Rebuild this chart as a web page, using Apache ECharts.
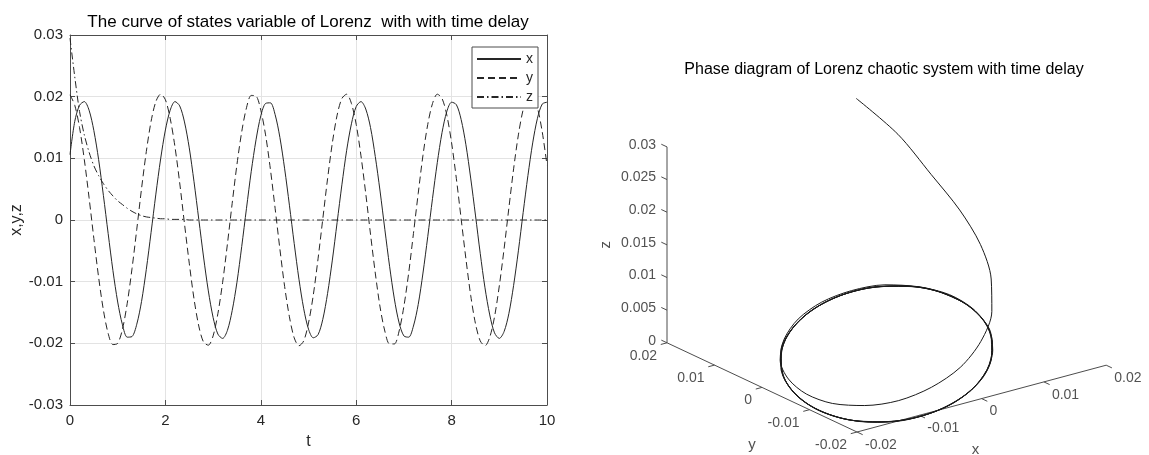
<!DOCTYPE html>
<html>
<head>
<meta charset="utf-8">
<title>Lorenz system with time delay</title>
<script src="https://cdn.jsdelivr.net/npm/echarts@6/dist/echarts.min.js"></script>
<style>
  html, body { margin: 0; padding: 0; background: #fff; }
  #main { width: 1149px; height: 455px; }
</style>
</head>
<body>
<div id="main"></div>
<script>
const tStep = 0.1;
const xState = [
  0.0106, 0.0160, 0.0186, 0.0192, 0.0178, 0.0145, 0.0098, 0.0040, -0.0022, -0.0082,
  -0.0133, -0.0170, -0.0190, -0.0189, -0.0169, -0.0132, -0.0080, -0.0020, 0.0042, 0.0099,
  0.0146, 0.0178, 0.0192, 0.0185, 0.0159, 0.0117, 0.0062, 0.0001, -0.0060, -0.0115,
  -0.0158, -0.0185, -0.0192, -0.0179, -0.0147, -0.0101, -0.0043, 0.0019, 0.0079, 0.0130,
  0.0169, 0.0189, 0.0190, 0.0171, 0.0134, 0.0083, 0.0024, -0.0038, -0.0096, -0.0144,
  -0.0177, -0.0191, -0.0186, -0.0161, -0.0119, -0.0065, -0.0004, 0.0057, 0.0113, 0.0156,
  0.0184, 0.0192, 0.0180, 0.0150, 0.0103, 0.0047, -0.0015, -0.0075, -0.0128, -0.0167,
  -0.0188, -0.0190, -0.0172, -0.0137, -0.0086, -0.0027, 0.0035, 0.0093, 0.0142, 0.0176,
  0.0191, 0.0187, 0.0163, 0.0122, 0.0068, 0.0008, -0.0054, -0.0110, -0.0154, -0.0183,
  -0.0192, -0.0181, -0.0152, -0.0106, -0.0050, 0.0012, 0.0072, 0.0125, 0.0165, 0.0188,
  0.0191
];
const yState = [
  0.0203, 0.0186, 0.0150, 0.0098, 0.0036, -0.0030, -0.0093, -0.0146, -0.0184, -0.0202,
  -0.0200, -0.0177, -0.0135, -0.0079, -0.0015, 0.0051, 0.0111, 0.0160, 0.0192, 0.0204,
  0.0195, 0.0165, 0.0119, 0.0060, -0.0006, -0.0070, -0.0128, -0.0172, -0.0198, -0.0203,
  -0.0188, -0.0152, -0.0101, -0.0039, 0.0027, 0.0090, 0.0143, 0.0182, 0.0202, 0.0201,
  0.0178, 0.0138, 0.0083, 0.0019, -0.0047, -0.0108, -0.0157, -0.0191, -0.0204, -0.0196,
  -0.0167, -0.0122, -0.0063, 0.0002, 0.0067, 0.0125, 0.0170, 0.0197, 0.0204, 0.0189,
  0.0155, 0.0104, 0.0043, -0.0023, -0.0086, -0.0141, -0.0180, -0.0201, -0.0201, -0.0180,
  -0.0140, -0.0086, -0.0022, 0.0043, 0.0105, 0.0155, 0.0189, 0.0204, 0.0197, 0.0170,
  0.0125, 0.0067, 0.0002, -0.0063, -0.0122, -0.0168, -0.0196, -0.0204, -0.0190, -0.0157,
  -0.0107, -0.0047, 0.0019, 0.0083, 0.0138, 0.0179, 0.0201, 0.0202, 0.0182, 0.0143,
  0.0089
];
const zState = [
  0.0295, 0.0232, 0.0176, 0.0138, 0.0110, 0.0088, 0.0072, 0.0059, 0.0048, 0.0039,
  0.0031, 0.0025, 0.0019, 0.0014, 0.0010, 0.0007, 0.0005, 0.0004, 0.0003, 0.0002,
  0.0002, 0.0001, 0.0001, 0.0001, 0.0001, 0, 0, 0, 0, 0,
  0, 0, 0, 0, 0, 0, 0, 0, 0, 0,
  0, 0, 0, 0, 0, 0, 0, 0, 0, 0,
  0, 0, 0, 0, 0, 0, 0, 0, 0, 0,
  0, 0, 0, 0, 0, 0, 0, 0, 0, 0,
  0, 0, 0, 0, 0, 0, 0, 0, 0, 0,
  0, 0, 0, 0, 0, 0, 0, 0, 0, 0,
  0, 0, 0, 0, 0, 0, 0, 0, 0, 0,
  0
];
const t = xState.map((_, i) => +(i * tStep).toFixed(1));

// tick labels of the 3-D box
const xyTicks = [-0.02, -0.01, 0, 0.01, 0.02];
const zTicks = [0, 0.005, 0.01, 0.015, 0.02, 0.025, 0.03];

// 3-D view: screen spot of the corner (x=-0.02, y=-0.02, z=0) and pixel step per unit of each axis
const ORIGIN = [857, 432];
const EX = [6230, -1670];
const EY = [-4750, -2230];
const EZ = [0, -6530];
function project(x, y, z) {
  return [
    ORIGIN[0] + (x + 0.02) * EX[0] + (y + 0.02) * EY[0] + z * EZ[0],
    ORIGIN[1] + (x + 0.02) * EX[1] + (y + 0.02) * EY[1] + z * EZ[1]
  ];
}
function seg(a, b) {
  const p = project(a[0], a[1], a[2]);
  const q = project(b[0], b[1], b[2]);
  return [p[0], p[1], q[0], q[1]];
}

// box lines and tick marks
let boxSegs = [
  seg([-0.02, 0.02, 0], [-0.02, 0.02, 0.03]),
  seg([-0.02, 0.02, 0], [-0.02, -0.02, 0]),
  seg([-0.02, -0.02, 0], [0.02, -0.02, 0])
];
zTicks.forEach(v => boxSegs.push(seg([-0.02, 0.02, v], [-0.02, 0.0212, v])));
xyTicks.forEach(v => boxSegs.push(seg([-0.02, v, 0], [-0.021, v, 0])));
xyTicks.forEach(v => boxSegs.push(seg([v, -0.02, 0], [v, -0.0212, 0])));

const fmt = v => String(v);
const zLabels = zTicks.map(v => project(-0.02, 0.02, v).concat(fmt(v)));
const yLabels = xyTicks.map(v => project(-0.02, v, 0).concat(fmt(v)));
const xLabels = xyTicks.map(v => project(v, -0.02, 0).concat(fmt(v)));

const FONT = "'Liberation Sans', Arial, Helvetica, sans-serif";
const INK = '#262626';
const AXIS = '#4d4d4d';
const GRIDC = '#e3e3e3';

function labelSeries(data, label) {
  return {
    type: 'scatter', xAxisIndex: 2, yAxisIndex: 2, silent: true,
    symbolSize: 0, data: data,
    label: Object.assign({
      show: true, formatter: p => p.data[2],
      color: INK, fontSize: 14, fontFamily: FONT
    }, label)
  };
}

const chart = echarts.init(document.getElementById('main'));
chart.setOption({
  animation: false,
  backgroundColor: '#fff',
  textStyle: { fontFamily: FONT },
  title: [
    {
      text: 'The curve of states variable of Lorenz  with with time delay',
      left: 308, top: 14, padding: 0, textAlign: 'center',
      textStyle: { fontSize: 17, fontWeight: 'normal', color: '#000', fontFamily: FONT }
    },
    {
      text: 'Phase diagram of Lorenz chaotic system with time delay',
      left: 884, top: 62, padding: 0, textAlign: 'center',
      textStyle: { fontSize: 16, fontWeight: 'normal', color: '#000', fontFamily: FONT }
    }
  ],
  legend: {
    data: ['x', 'y', 'z'],
    orient: 'vertical',
    left: 472, top: 47,
    padding: [5, 5, 4, 4],
    itemWidth: 44, itemHeight: 12, itemGap: 5,
    itemStyle: { opacity: 0 },
    borderColor: AXIS, borderWidth: 1, borderRadius: 0,
    backgroundColor: '#fff',
    textStyle: { fontSize: 14, color: INK, fontFamily: FONT }
  },
  grid: [
    { left: 70, top: 35, width: 477, height: 375 },
    { left: 580, top: 0, right: 0, bottom: 0 }
  ],
  xAxis: [
    {
      type: 'value', gridIndex: 0, min: 0, max: 10, interval: 2,
      name: 't', nameLocation: 'middle', nameGap: 29,
      nameTextStyle: { fontSize: 16, color: INK, fontFamily: FONT },
      axisLine: { onZero: false, lineStyle: { color: AXIS } },
      axisTick: { inside: true, length: 5, lineStyle: { color: AXIS } },
      axisLabel: { fontSize: 15, color: INK, margin: 8, fontFamily: FONT },
      splitLine: { show: true, lineStyle: { color: GRIDC } }
    },
    {
      type: 'value', gridIndex: 0, min: 0, max: 10, interval: 2, position: 'top',
      axisLine: { onZero: false, lineStyle: { color: AXIS } },
      axisTick: { inside: true, length: 5, lineStyle: { color: AXIS } },
      axisLabel: { show: false }, splitLine: { show: false }
    },
    { type: 'value', gridIndex: 1, min: 580, max: 1149, show: false }
  ],
  yAxis: [
    {
      type: 'value', gridIndex: 0, min: -0.03, max: 0.03, interval: 0.01,
      name: 'x,y,z', nameLocation: 'middle', nameGap: 34,
      nameTextStyle: { fontSize: 16, color: INK, fontFamily: FONT },
      axisLine: { show: true, onZero: false, lineStyle: { color: AXIS } },
      axisTick: { show: true, inside: true, length: 5, lineStyle: { color: AXIS } },
      axisLabel: { fontSize: 15, color: INK, margin: 7, fontFamily: FONT },
      splitLine: { show: true, lineStyle: { color: GRIDC } }
    },
    {
      type: 'value', gridIndex: 0, min: -0.03, max: 0.03, interval: 0.01, position: 'right',
      axisLine: { show: true, onZero: false, lineStyle: { color: AXIS } },
      axisTick: { show: true, inside: true, length: 5, lineStyle: { color: AXIS } },
      axisLabel: { show: false }, splitLine: { show: false }
    },
    { type: 'value', gridIndex: 1, min: 0, max: 455, inverse: true, show: false }
  ],
  series: [
    {
      name: 'x', type: 'line', xAxisIndex: 0, yAxisIndex: 0,
      data: t.map((v, i) => [v, xState[i]]),
      symbol: 'none', smooth: 0.3, color: INK,
      lineStyle: { color: INK, width: 1 }
    },
    {
      name: 'y', type: 'line', xAxisIndex: 0, yAxisIndex: 0,
      data: t.map((v, i) => [v, yState[i]]),
      symbol: 'none', smooth: 0.3, color: INK,
      lineStyle: { color: INK, width: 1, type: [7, 4] }
    },
    {
      name: 'z', type: 'line', xAxisIndex: 0, yAxisIndex: 0,
      data: t.map((v, i) => [v, zState[i]]),
      symbol: 'none', smooth: 0.3, color: INK,
      lineStyle: { color: INK, width: 1, type: [7, 3, 1.5, 3] }
    },
    {
      name: 'phase', type: 'line', xAxisIndex: 2, yAxisIndex: 2,
      data: xState.map((v, i) => project(v, yState[i], zState[i])),
      symbol: 'none', smooth: 0.3, silent: true,
      lineStyle: { color: '#1a1a1a', width: 1 }
    },
    {
      type: 'custom', xAxisIndex: 2, yAxisIndex: 2, silent: true,
      data: boxSegs,
      encode: { x: [0, 2], y: [1, 3] },
      renderItem: (params, api) => {
        const a = api.coord([api.value(0), api.value(1)]);
        const b = api.coord([api.value(2), api.value(3)]);
        return {
          type: 'line',
          shape: { x1: a[0], y1: a[1], x2: b[0], y2: b[1] },
          style: { stroke: AXIS, lineWidth: 1 }
        };
      }
    },
    labelSeries(zLabels, { position: [-11, -2], align: 'right', verticalAlign: 'middle' }),
    labelSeries(yLabels, { position: [-10, 13], align: 'right', verticalAlign: 'middle' }),
    labelSeries(xLabels, { position: [8, 13], align: 'left', verticalAlign: 'middle' }),
    labelSeries([
      project(-0.02, 0.02, 0.015).concat('z')
    ], { position: [-61, 0], align: 'center', verticalAlign: 'middle', rotate: 90, fontSize: 15 }),
    labelSeries([
      project(-0.02, 0, 0).concat('y')
    ], { position: [-10, 57], align: 'center', verticalAlign: 'middle', fontSize: 15 }),
    labelSeries([
      project(0, -0.02, 0).concat('x')
    ], { position: [-6, 51], align: 'center', verticalAlign: 'middle', fontSize: 15 })
  ]
});
</script>
</body>
</html>
